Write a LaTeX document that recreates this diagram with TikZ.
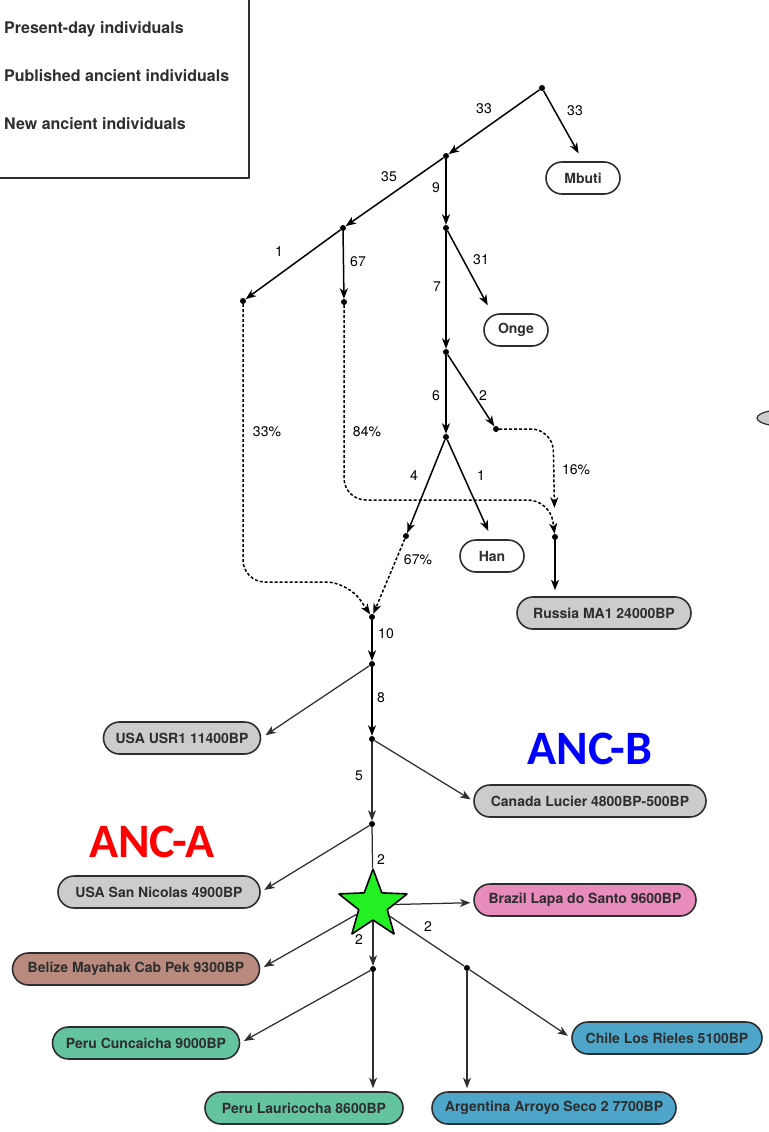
\documentclass[tikz,border=0pt]{standalone}
\usepackage{fontspec}
\setmainfont{TeX Gyre Heros}
\newfontfamily\ancfont{Carlito}
\usetikzlibrary{arrows.meta}
\usetikzlibrary{shapes, calc}

\definecolor{boxgray}{HTML}{CCCCCC}
\definecolor{boxpink}{HTML}{E78CBB}
\definecolor{boxbrown}{HTML}{B98A7E}
\definecolor{boxgreen}{HTML}{64C4A0}
\definecolor{boxblue}{HTML}{4DA6C9}
\definecolor{starfill}{HTML}{22F022}
\definecolor{inkgray}{HTML}{2E2E2E}

\begin{document}
\begin{tikzpicture}[>={Stealth[length=10.5bp,width=8bp,inset=3bp]},line join=bevel,
  every node/.style={font=\fontsize{14bp}{17bp}\selectfont},
  dot/.style={circle,fill=black,inner sep=0pt,minimum size=6bp},
  ind/.style={rounded rectangle,draw=inkgray,line width=1.6bp,minimum height=32bp,
    inner xsep=2bp,font=\fontsize{14bp}{17bp}\selectfont\bfseries,text=inkgray},
  tree/.style={black,line width=1.5bp,->},
  low/.style={inkgray,line width=1.25bp},
  admix/.style={black,line width=1.5bp,dash pattern=on 3bp off 2bp,->,rounded corners=22bp},
  legtxt/.style={anchor=west,inner sep=0pt,text=inkgray,font=\fontsize{16bp}{19bp}\selectfont\bfseries},
  anc/.style={font=\ancfont\fontsize{48bp}{50bp}\selectfont\bfseries}]
\useasboundingbox (0bp,0bp) rectangle (769bp,-1132bp);
%% legend
\draw [inkgray,line width=1.2bp] (-5bp,5bp) rectangle (249bp,-178bp);
\node (legend_present) at (4bp,-29bp) [legtxt] {Present-day individuals};
\node (legend_published) at (4bp,-76bp) [legtxt] {Published ancient individuals};
\node (legend_new) at (4bp,-124bp) [legtxt] {New ancient individuals};
\draw [inkgray,fill=boxgray,line width=1.2bp] (790bp,-418bp) ellipse (33bp and 9bp);
%% split points
\node (node_0) at (542bp,-88bp) [dot] {};
\node (node_1) at (446bp,-156bp) [dot] {};
\node (node_2) at (343bp,-228bp) [dot] {};
\node (node_3) at (446bp,-228bp) [dot] {};
\node (node_4) at (243bp,-301bp) [dot] {};
\node (node_5) at (344bp,-302bp) [dot] {};
\node (node_6) at (446bp,-352bp) [dot] {};
\node (node_7) at (446bp,-437bp) [dot] {};
\node (node_8) at (496bp,-429bp) [dot] {};
\node (node_9) at (406bp,-536bp) [dot] {};
\node (node_10) at (555bp,-537bp) [dot] {};
\node (node_11) at (372bp,-617bp) [dot] {};
\node (node_12) at (372bp,-664bp) [dot] {};
\node (node_13) at (372bp,-739bp) [dot] {};
\node (node_14) at (372bp,-824bp) [dot] {};
\node (node_15) at (373bp,-969bp) [dot] {};
\node (node_16) at (467bp,-968bp) [dot] {};
\node (node_star) at (373bp,-905bp) [star,star points=5,star point ratio=2.4,minimum size=72bp,
  inner sep=0pt,fill=starfill,draw=black,line width=1.6bp] {};
%% individuals
\node (node_mbuti) at (583bp,-178bp) [ind,fill=white,minimum width=78bp] {Mbuti};
\node (node_onge) at (516bp,-330bp) [ind,fill=white,minimum width=68bp] {Onge};
\node (node_han) at (492bp,-556bp) [ind,fill=white,minimum width=68bp] {Han};
\node (node_russia) at (604bp,-613bp) [ind,fill=boxgray,minimum width=178bp] {Russia MA1 24000BP};
\node (node_usr1) at (182bp,-738bp) [ind,fill=boxgray,minimum width=161bp] {USA USR1 11400BP};
\node (node_lucier) at (590bp,-801bp) [ind,fill=boxgray,minimum width=236bp] {Canada Lucier 4800BP-500BP};
\node (node_nicolas) at (159bp,-892bp) [ind,fill=boxgray,minimum width=206bp] {USA San Nicolas 4900BP};
\node (node_brazil) at (585bp,-900bp) [ind,fill=boxpink,minimum width=226bp] {Brazil Lapa do Santo 9600BP};
\node (node_belize) at (136bp,-969bp) [ind,fill=boxbrown,minimum width=251bp] {Belize Mayahak Cab Pek 9300BP};
\node (node_cuncaicha) at (146bp,-1043bp) [ind,fill=boxgreen,minimum width=191bp] {Peru Cuncaicha 9000BP};
\node (node_lauricocha) at (304bp,-1108bp) [ind,fill=boxgreen,minimum width=202bp] {Peru Lauricocha 8600BP};
\node (node_chile) at (667bp,-1038bp) [ind,fill=boxblue,minimum width=194bp] {Chile Los Rieles 5100BP};
\node (node_argentina) at (554bp,-1108bp) [ind,fill=boxblue,minimum width=248bp] {Argentina Arroyo Seco 2 7700BP};
\node (node_anca) at (152bp,-842bp) [anc,text=red] {ANC-A};
\node (node_ancb) at (590bp,-749bp) [anc,text=blue] {ANC-B};
%% tree edges
\draw [tree] (node_0) -- (node_1);
\draw [tree,shorten >=9bp] (node_0) -- (node_mbuti.north);
\draw [tree] (node_1) -- (node_2);
\draw [tree] (node_1) -- (node_3);
\draw [tree] (node_2) -- (node_4);
\draw [tree] (node_2) -- (node_5);
\draw [tree,shorten >=9bp] (node_3) -- ($(node_onge.north)+(-24bp,0)$);
\draw [tree] (node_3) -- (node_6);
\draw [tree] (node_6) -- (node_7);
\draw [tree] (node_6) -- (node_8);
\draw [tree] (node_7) -- (node_9);
\draw [tree,shorten >=9bp] (node_7) -- (node_han.north);
\draw [tree,shorten >=6bp] (node_10) -- (node_10 |- node_russia.north);
\draw [tree] (node_11) -- (node_12);
\draw [tree,low,shorten >=5bp] (node_12) -- (node_usr1.east);
\draw [tree] (node_12) -- (node_13);
\draw [tree,low,shorten >=3bp] (node_13) -- (node_lucier.west);
\draw [tree,low] (node_13) -- (node_14);
\draw [tree,low,shorten >=4bp] (node_14) -- (node_nicolas.east);
\draw [tree,low,-] (node_14) -- (node_star);
\draw [tree,low,shorten >=3bp] (node_star) -- (node_brazil);
\draw [tree,low,shorten >=4bp] (node_star) -- (node_belize.east);
\draw [tree,low] (node_star) -- (node_15);
\draw [tree,low,-] (node_star) -- (node_16);
\draw [tree,low,shorten >=4bp] (node_15) -- (node_cuncaicha.east);
\draw [tree,low,shorten >=3bp] (node_15) -- (node_15 |- node_lauricocha.north);
\draw [tree,low,shorten >=3bp] (node_16) -- (node_16 |- node_argentina.north);
\draw [tree,low,shorten >=4bp] (node_16) -- (node_chile.west);
%% admixture edges
\draw [admix] (node_4) -- ++(0bp,-281bp) -- ++(105bp,0bp) -- (node_11);
\draw [admix] (node_5) -- ++(0bp,-198bp) -- ++(206bp,0bp) -- (node_10);
\draw [admix,shorten >=26bp] (node_8) -- ++(57bp,0bp) -- (node_10);
\draw [admix] (node_9) -- (node_11);
%% edge labels
\node (label_33a) at (484bp,-109bp) {33};
\node (label_33b) at (575bp,-111bp) {33};
\node (label_35) at (389bp,-177bp) {35};
\node (label_9) at (436bp,-188bp) {9};
\node (label_1a) at (279bp,-252bp) {1};
\node (label_67) at (358bp,-262bp) {67};
\node (label_31) at (481bp,-260bp) {31};
\node (label_7) at (437bp,-287bp) {7};
\node (label_6) at (436bp,-396bp) {6};
\node (label_2a) at (483bp,-396bp) {2};
\node (label_4) at (414bp,-476bp) {4};
\node (label_1b) at (481bp,-476bp) {1};
\node (label_33p) at (267bp,-432bp) {33\%};
\node (label_84p) at (367bp,-432bp) {84\%};
\node (label_16p) at (576bp,-470bp) {16\%};
\node (label_67p) at (418bp,-560bp) {67\%};
\node (label_10) at (386bp,-634bp) {10};
\node (label_8) at (381bp,-698bp) {8};
\node (label_5) at (359bp,-776bp) {5};
\node (label_2b) at (381bp,-860bp) {2};
\node (label_2c) at (359bp,-940bp) {2};
\node (label_2d) at (428bp,-927bp) {2};
%
\end{tikzpicture}
\end{document}
